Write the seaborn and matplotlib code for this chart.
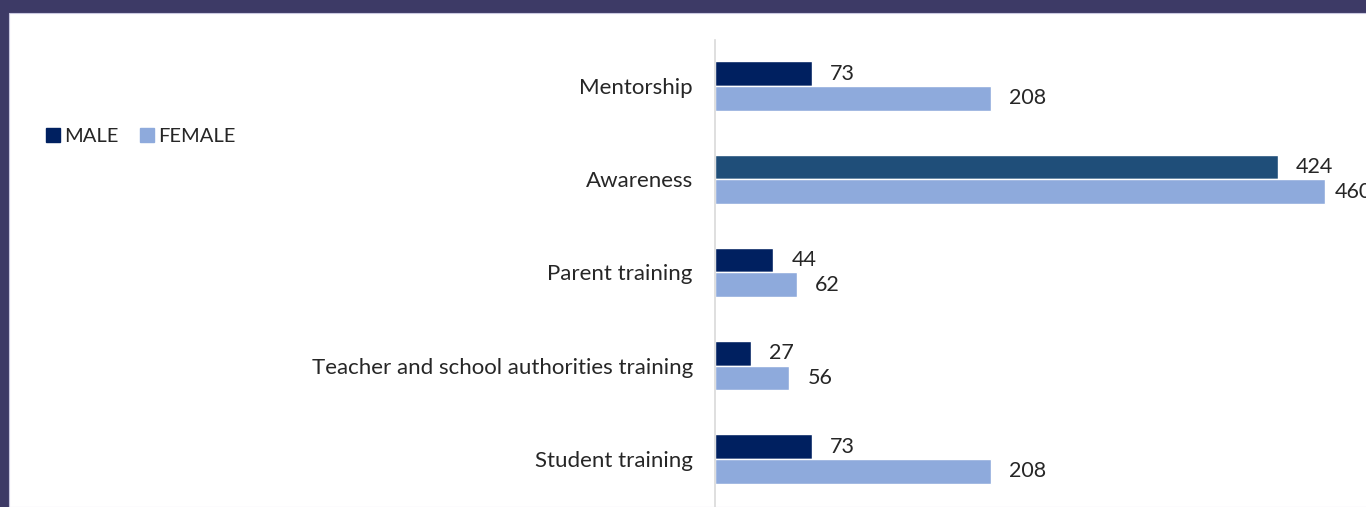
import numpy as np
import pandas as pd
import matplotlib
matplotlib.use("Agg")
import matplotlib.pyplot as plt
from matplotlib.patches import Rectangle
from matplotlib.lines import Line2D
import seaborn as sns

# datos
categorias = ['Mentorship', 'Awareness', 'Parent training',
              'Teacher and school authorities training', 'Student training']
male = [73, 424, 44, 27, 73]
female = [208, 460, 62, 56, 208]
grupos = ['MALE', 'FEMALE']

datos = pd.DataFrame({
    'categoria': categorias * 2,
    'valor': male + female,
    'sexo': [grupos[0]] * len(male) + [grupos[1]] * len(female),
})

sns.set_style('white')
plt.rcParams['font.family'] = ['Lato', 'DejaVu Sans']

col_male = '#002060'
col_female = '#8eaadc'
col_texto = '#262626'

W, H = 1366, 507
fig = plt.figure(figsize=(W / 100, H / 100), dpi=100)
fig.patch.set_facecolor('#3d3a66')
# panel blanco (detras de los ejes)
fig.patches.append(Rectangle((9 / W, 0), 1, 1 - 13 / H, transform=fig.transFigure,
                             facecolor='white', edgecolor='#c9c8e0', lw=0.8, zorder=-5))

# eje: 0 en x=715 px, 1.327 px por unidad
px_unidad = 1.327
xmax = 520
ax = fig.add_axes([715 / W, 0, xmax * px_unidad / W, (H - 40) / H])
ax.patch.set_alpha(0)

sns.barplot(data=datos, y='categoria', x='valor', hue='sexo', order=categorias,
            hue_order=grupos, palette=[col_male, col_female], width=0.53,
            orient='h', ax=ax, legend=False, saturation=1)

# barra male de Awareness con otro tono
ax.containers[0][1].set_facecolor('#1f4e79')

etiquetas = []
for cont in ax.containers:
    etiquetas.append(ax.bar_label(cont, labels=[str(int(v)) for v in cont.datavalues],
                                  padding=13, fontsize=15.5, color=col_texto))
# la etiqueta 460 queda mas pegada a la barra
etiquetas[1][1].xyann = (7, 0)

ax.set_xlim(0, xmax)
ax.set_ylim(4.515, -0.493)
ax.set_xticks([])
ax.set_xlabel('')
ax.set_ylabel('')
for s in ['top', 'right', 'bottom']:
    ax.spines[s].set_visible(False)
ax.spines['left'].set_color('#d9d9d9')
ax.spines['left'].set_linewidth(1.2)
ax.tick_params(axis='y', length=0, pad=16, labelsize=16, labelcolor=col_texto)

handles = [Line2D([], [], marker='s', ls='', markersize=9.5, color=c) for c in [col_male, col_female]]
fig.legend(handles, grupos, loc='center left', bbox_to_anchor=(27 / W, 1 - 136 / H),
           ncol=2, frameon=False, fontsize=14.5, handletextpad=0.15, columnspacing=1.0,
           handlelength=0.8, labelcolor=col_texto)

fig.savefig('out.png', dpi=100, facecolor=fig.get_facecolor())
